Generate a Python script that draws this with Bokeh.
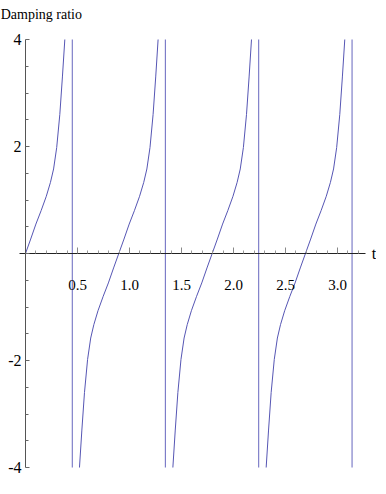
from bokeh.plotting import figure
from bokeh.models import Range1d, FixedTicker, Label
from bokeh.embed import file_html
from bokeh.resources import INLINE

# ---- data ----
# branch 1 (starts at t = 0)
t1 = [0.0, 0.05, 0.10, 0.15, 0.20, 0.24, 0.27, 0.30, 0.33, 0.355, 0.378]
y1 = [0.0, 0.27, 0.55, 0.80, 1.07, 1.33, 1.58, 1.98, 2.60, 3.30, 4.0]
# branch 2
t2 = [0.519, 0.542, 0.567, 0.597, 0.627, 0.657, 0.697, 0.747, 0.797, 0.847, 0.897,
      0.947, 0.997, 1.047, 1.097, 1.137, 1.167, 1.197, 1.227, 1.252, 1.275]
y2 = [-4.0, -3.30, -2.60, -1.98, -1.58, -1.33, -1.07, -0.80, -0.55, -0.27, 0.0,
      0.27, 0.55, 0.80, 1.07, 1.33, 1.58, 1.98, 2.60, 3.30, 4.0]
# branch 3
t3 = [1.417, 1.440, 1.465, 1.495, 1.525, 1.555, 1.595, 1.645, 1.695, 1.745, 1.795,
      1.845, 1.895, 1.945, 1.995, 2.035, 2.065, 2.095, 2.125, 2.150, 2.173]
y3 = [-4.0, -3.30, -2.60, -1.98, -1.58, -1.33, -1.07, -0.80, -0.55, -0.27, 0.0,
      0.27, 0.55, 0.80, 1.07, 1.33, 1.58, 1.98, 2.60, 3.30, 4.0]
# branch 4
t4 = [2.314, 2.337, 2.362, 2.392, 2.422, 2.452, 2.492, 2.542, 2.592, 2.642, 2.692,
      2.742, 2.792, 2.842, 2.892, 2.932, 2.962, 2.992, 3.022, 3.047, 3.070]
y4 = [-4.0, -3.30, -2.60, -1.98, -1.58, -1.33, -1.07, -0.80, -0.55, -0.27, 0.0,
      0.27, 0.55, 0.80, 1.07, 1.33, 1.58, 1.98, 2.60, 3.30, 4.0]
# vertical (asymptote) lines
asym_t = [0.450, 1.345, 2.242, 3.140]
asym_lo = [-4.0, -4.0, -4.0, -4.0]
asym_hi = [4.0, 4.0, 4.0, 4.0]

x_ticks = [0.5, 1.0, 1.5, 2.0, 2.5, 3.0]
x_tick_labels = ["0.5", "1.0", "1.5", "2.0", "2.5", "3.0"]
x_minor = [0.1, 0.2, 0.3, 0.4, 0.6, 0.7, 0.8, 0.9, 1.1, 1.2, 1.3, 1.4, 1.6, 1.7, 1.8, 1.9,
           2.1, 2.2, 2.3, 2.4, 2.6, 2.7, 2.8, 2.9, 3.1, 3.2]
y_ticks = [-4, -2, 0, 2, 4]
y_tick_labels = ["-4", "-2", "", "2", "4"]
y_minor = [-3.5, -3, -2.5, -1.5, -1, -0.5, 0.5, 1, 1.5, 2.5, 3, 3.5]

FONT = "Liberation Serif"
CURVE = "#5656b4"
VLINE = "#7474c4"

p = figure(width=376, height=478, output_backend="svg", toolbar_location=None,
           x_range=Range1d(-0.2404, 3.375), y_range=Range1d(-4.2056, 4.729),
           min_border_left=0, min_border_right=0, min_border_top=0, min_border_bottom=0)
p.outline_line_color = None
p.grid.visible = False
p.background_fill_color = "white"
p.border_fill_color = "white"

for tt, yy in [(t1, y1), (t2, y2), (t3, y3), (t4, y4)]:
    p.line(tt, yy, line_color=CURVE, line_width=1.0)
p.segment(x0=asym_t, y0=asym_lo, x1=asym_t, y1=asym_hi, line_color=VLINE, line_width=1.1)

# x axis through y = 0
xa = p.xaxis[0]
xa.fixed_location = 0
xa.bounds = (-0.06, 3.27)
xa.ticker = FixedTicker(ticks=x_ticks, minor_ticks=x_minor)
xa.major_label_overrides = {v: s for v, s in zip(x_ticks, x_tick_labels)}
xa.major_tick_in = 6
xa.major_tick_out = 0
xa.minor_tick_in = 3
xa.minor_tick_out = 0
xa.major_tick_line_color = "#888888"
xa.minor_tick_line_color = "#999999"
xa.axis_line_color = "#222222"
xa.major_label_standoff = 26
xa.major_label_text_font = FONT
xa.major_label_text_font_size = "15px"
xa.major_label_text_color = "black"

# y axis at t = 0
ya = p.yaxis[0]
ya.fixed_location = 0
ya.bounds = (-4, 4)
ya.ticker = FixedTicker(ticks=y_ticks, minor_ticks=y_minor)
ya.major_label_overrides = {v: s for v, s in zip(y_ticks, y_tick_labels)}
ya.major_tick_in = 4
ya.major_tick_out = 0
ya.minor_tick_in = 3
ya.minor_tick_out = 0
ya.major_tick_line_color = "#666666"
ya.minor_tick_line_color = "#666666"
ya.axis_line_color = "#555555"
ya.major_label_standoff = 4
ya.major_label_text_font = FONT
ya.major_label_text_font_size = "16px"
ya.major_label_text_color = "black"

p.add_layout(Label(x=-0.238, y=4.47, text="Damping ratio", text_font=FONT,
                   text_font_size="14px", text_color="black", text_baseline="alphabetic"))
p.add_layout(Label(x=3.33, y=0, text="t", text_font=FONT,
                   text_font_size="16px", text_color="black", text_baseline="middle"))

open("out.html", "w").write(file_html(p, INLINE))
